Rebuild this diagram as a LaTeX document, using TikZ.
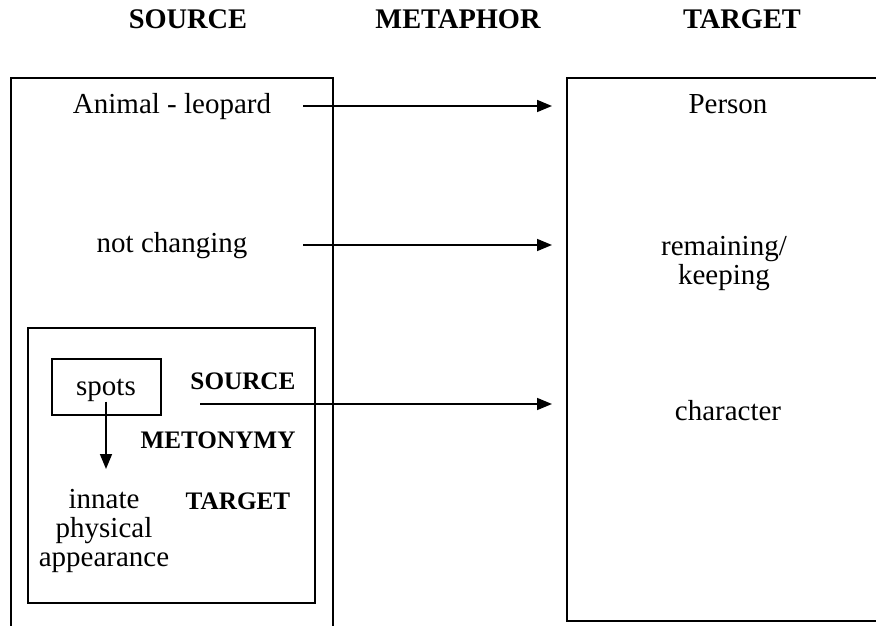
\documentclass[tikz,border=0pt]{standalone}
\usepackage{fontspec}
\setmainfont{Liberation Serif}
\usetikzlibrary{arrows.meta,positioning}

\tikzset{
  txt/.style={font=\fontsize{14.5}{14.5}\selectfont, inner sep=0pt, align=center, anchor=base},
  hdr/.style={font=\fontsize{14.2}{14.2}\selectfont\bfseries, inner sep=0pt, anchor=base},
  lbl/.style={font=\fontsize{12.6}{14}\selectfont\bfseries, inner sep=0pt, anchor=base},
  boxline/.style={draw, line width=0.8pt},
  maparrow/.style={-{Triangle[length=7.5pt,width=6pt]}, line width=0.8pt},
}

\begin{document}
\begin{tikzpicture}[x=0.5pt, y=-0.5pt]
    \useasboundingbox (0,0) rectangle (876,625);
    \clip (0,0) rectangle (876,625);
    % Column headings
    \node [hdr] (hsource) at (188,29) {SOURCE};
    \node [hdr] (hmetaphor) at (458,29) {METAPHOR};
    \node [hdr] (htarget) at (742,29) {TARGET};
    % Source and target domains (both run off the page)
    \draw [boxline] (11,78) rectangle (333,660);
    \draw [boxline] (567,78) rectangle (900,621);
    \coordinate (tbox) at (567,78);
    % Metonymy box inside the source domain
    \draw [boxline] (28,328) rectangle (315,603);
    \draw [boxline] (52,359) rectangle (161,415);
    % Source side
    \node [txt] (animal) at (172,114) {Animal - leopard};
    \node [txt] (notchange) at (172,253) {not changing};
    \node [txt] (spots) at (106,395) {spots};
    \node [txt, anchor=north] (innate) at (104,489) {innate\\physical\\appearance};
    \node [lbl] (msource) at (243,389) {SOURCE};
    \node [lbl] (mmetonymy) at (218,448) {METONYMY};
    \node [lbl] (mtarget) at (238,509) {TARGET};
    % Target side
    \node [txt] (person) at (728,114) {Person};
    \node [txt, anchor=north] (remain) at (724,236) {remaining/\\keeping};
    \node [txt] (character) at (728,420) {character};
    % Mappings
    \coordinate (m1) at ([shift={(32,-8)}]animal.base east);
    \coordinate (n2) at (m1 |- notchange.base);
    \coordinate (m2) at ([shift={(0,-8)}]n2);
    \coordinate (m3) at (200,404);
    \draw [maparrow, shorten >=7.5pt] (m1) -- (m1 -| tbox);
    \draw [maparrow, shorten >=7.5pt] (m2) -- (m2 -| tbox);
    \draw [maparrow, shorten >=7.5pt] (m3) -- (m3 -| tbox);
    \draw [maparrow, shorten >=10pt] (spots.south) -- (spots.south |- innate.north);
\end{tikzpicture}
\end{document}
